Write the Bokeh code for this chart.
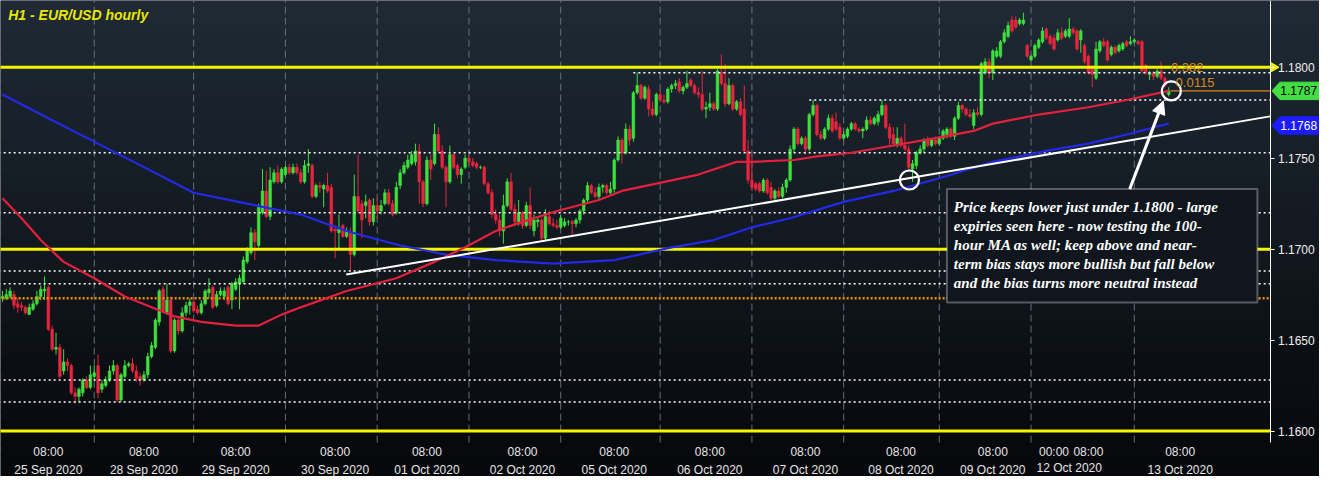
import numpy as np
from bokeh.plotting import figure
from bokeh.models import (Range1d, FixedTicker, NumeralTickFormatter, Label, LinearAxis,
                          Arrow, NormalHead, BoxAnnotation, ColumnDataSource)
from bokeh.embed import file_html
from bokeh.resources import INLINE

# ---------------- data (EUR/USD hourly candles) ----------------
open_ = [1.1673, 1.1673, 1.1674, 1.1675, 1.1670, 1.1669, 1.1668, 1.1664, 1.1667, 1.1670,
         1.1674, 1.1677, 1.1679, 1.1656, 1.1645, 1.1646, 1.1633, 1.1638, 1.1636, 1.1621,
         1.1619, 1.1621, 1.1628, 1.1624, 1.1630, 1.1636, 1.1623, 1.1625, 1.1628, 1.1633,
         1.1636, 1.1617, 1.1630, 1.1636, 1.1637, 1.1633, 1.1630, 1.1628, 1.1631, 1.1641,
         1.1646, 1.1660, 1.1678, 1.1665, 1.1672, 1.1644, 1.1661, 1.1655, 1.1665, 1.1669,
         1.1671, 1.1667, 1.1665, 1.1670, 1.1676, 1.1679, 1.1669, 1.1675, 1.1674, 1.1679,
         1.1672, 1.1678, 1.1681, 1.1682, 1.1693, 1.1698, 1.1709, 1.1702, 1.1720, 1.1732,
         1.1718, 1.1737, 1.1742, 1.1737, 1.1741, 1.1745, 1.1742, 1.1745, 1.1742, 1.1737,
         1.1746, 1.1746, 1.1729, 1.1735, 1.1733, 1.1735, 1.1734, 1.1711, 1.1709, 1.1713,
         1.1707, 1.1709, 1.1697, 1.1729, 1.1725, 1.1724, 1.1727, 1.1715, 1.1724, 1.1721,
         1.1725, 1.1731, 1.1725, 1.1720, 1.1735, 1.1742, 1.1745, 1.1747, 1.1748, 1.1754,
         1.1737, 1.1725, 1.1749, 1.1747, 1.1763, 1.1754, 1.1745, 1.1737, 1.1752, 1.1746,
         1.1741, 1.1745, 1.1750, 1.1748, 1.1747, 1.1745, 1.1745, 1.1736, 1.1731, 1.1719,
         1.1716, 1.1710, 1.1724, 1.1737, 1.1722, 1.1715, 1.1720, 1.1713, 1.1724, 1.1710,
         1.1715, 1.1716, 1.1706, 1.1718, 1.1714, 1.1713, 1.1712, 1.1713, 1.1715, 1.1715,
         1.1714, 1.1716, 1.1721, 1.1727, 1.1735, 1.1731, 1.1729, 1.1734, 1.1735, 1.1731,
         1.1733, 1.1749, 1.1760, 1.1753, 1.1766, 1.1761, 1.1786, 1.1790, 1.1783, 1.1788,
         1.1777, 1.1774, 1.1785, 1.1782, 1.1781, 1.1788, 1.1790, 1.1792, 1.1787, 1.1789,
         1.1793, 1.1790, 1.1786, 1.1785, 1.1777, 1.1778, 1.1780, 1.1777, 1.1797, 1.1791,
         1.1780, 1.1790, 1.1777, 1.1781, 1.1777, 1.1754, 1.1738, 1.1736, 1.1736, 1.1732,
         1.1738, 1.1734, 1.1728, 1.1732, 1.1729, 1.1734, 1.1738, 1.1755, 1.1766, 1.1758,
         1.1761, 1.1755, 1.1774, 1.1779, 1.1763, 1.1761, 1.1766, 1.1772, 1.1770, 1.1767,
         1.1761, 1.1762, 1.1766, 1.1769, 1.1766, 1.1765, 1.1766, 1.1771, 1.1769, 1.1770,
         1.1774, 1.1779, 1.1767, 1.1763, 1.1758, 1.1761, 1.1757, 1.1755, 1.1744, 1.1746,
         1.1753, 1.1755, 1.1760, 1.1757, 1.1760, 1.1758, 1.1761, 1.1763, 1.1766, 1.1762,
         1.1772, 1.1779, 1.1777, 1.1774, 1.1768, 1.1775, 1.1774, 1.1797, 1.1803, 1.1797,
         1.1806, 1.1806, 1.1814, 1.1817, 1.1826, 1.1826, 1.1824, 1.1824, 1.1812, 1.1804,
         1.1806, 1.1811, 1.1814, 1.1821, 1.1817, 1.1816, 1.1815, 1.1819, 1.1817, 1.1817,
         1.1821, 1.1820, 1.1815, 1.1812, 1.1806, 1.1799, 1.1794, 1.1809, 1.1814, 1.1814,
         1.1807, 1.1811, 1.1809, 1.1810, 1.1814, 1.1813, 1.1814, 1.1814, 1.1814, 1.1801,
         1.1796, 1.1797, 1.1795, 1.1798, 1.1794, 1.1785]

high = [1.1677, 1.1678, 1.1679, 1.1677, 1.1673, 1.1671, 1.1669, 1.1670, 1.1672, 1.1677,
        1.1680, 1.1685, 1.1680, 1.1658, 1.1654, 1.1648, 1.1645, 1.1640, 1.1637, 1.1624,
        1.1624, 1.1629, 1.1630, 1.1636, 1.1636, 1.1642, 1.1628, 1.1630, 1.1636, 1.1639,
        1.1637, 1.1632, 1.1639, 1.1638, 1.1640, 1.1636, 1.1632, 1.1633, 1.1643, 1.1649,
        1.1662, 1.1678, 1.1680, 1.1681, 1.1674, 1.1662, 1.1663, 1.1668, 1.1671, 1.1673,
        1.1672, 1.1669, 1.1672, 1.1678, 1.1684, 1.1680, 1.1677, 1.1679, 1.1679, 1.1680,
        1.1682, 1.1684, 1.1686, 1.1696, 1.1701, 1.1712, 1.1711, 1.1725, 1.1744, 1.1743,
        1.1745, 1.1744, 1.1746, 1.1745, 1.1746, 1.1747, 1.1747, 1.1747, 1.1744, 1.1749,
        1.1755, 1.1747, 1.1736, 1.1737, 1.1736, 1.1742, 1.1736, 1.1713, 1.1719, 1.1714,
        1.1712, 1.1712, 1.1741, 1.1752, 1.1727, 1.1730, 1.1728, 1.1728, 1.1728, 1.1727,
        1.1733, 1.1733, 1.1727, 1.1737, 1.1744, 1.1748, 1.1752, 1.1754, 1.1758, 1.1758,
        1.1738, 1.1751, 1.1752, 1.1769, 1.1767, 1.1757, 1.1746, 1.1757, 1.1753, 1.1747,
        1.1745, 1.1752, 1.1752, 1.1750, 1.1748, 1.1746, 1.1746, 1.1737, 1.1733, 1.1722,
        1.1719, 1.1730, 1.1739, 1.1742, 1.1725, 1.1727, 1.1721, 1.1726, 1.1734, 1.1719,
        1.1717, 1.1717, 1.1722, 1.1721, 1.1717, 1.1716, 1.1719, 1.1717, 1.1716, 1.1716,
        1.1717, 1.1722, 1.1728, 1.1737, 1.1736, 1.1734, 1.1736, 1.1736, 1.1736, 1.1737,
        1.1750, 1.1762, 1.1761, 1.1769, 1.1768, 1.1787, 1.1797, 1.1791, 1.1790, 1.1790,
        1.1781, 1.1786, 1.1788, 1.1785, 1.1789, 1.1791, 1.1793, 1.1794, 1.1790, 1.1798,
        1.1794, 1.1791, 1.1789, 1.1798, 1.1781, 1.1786, 1.1781, 1.1799, 1.1807, 1.1802,
        1.1794, 1.1791, 1.1782, 1.1783, 1.1790, 1.1760, 1.1752, 1.1737, 1.1737, 1.1739,
        1.1739, 1.1737, 1.1733, 1.1734, 1.1736, 1.1739, 1.1757, 1.1767, 1.1767, 1.1762,
        1.1762, 1.1775, 1.1782, 1.1780, 1.1765, 1.1767, 1.1774, 1.1774, 1.1775, 1.1769,
        1.1765, 1.1767, 1.1770, 1.1770, 1.1767, 1.1767, 1.1773, 1.1773, 1.1773, 1.1776,
        1.1782, 1.1780, 1.1769, 1.1767, 1.1767, 1.1762, 1.1769, 1.1757, 1.1749, 1.1754,
        1.1757, 1.1761, 1.1762, 1.1761, 1.1762, 1.1762, 1.1766, 1.1767, 1.1767, 1.1773,
        1.1781, 1.1780, 1.1778, 1.1777, 1.1777, 1.1778, 1.1803, 1.1805, 1.1805, 1.1810,
        1.1811, 1.1815, 1.1821, 1.1825, 1.1828, 1.1828, 1.1827, 1.1830, 1.1813, 1.1807,
        1.1813, 1.1816, 1.1822, 1.1822, 1.1818, 1.1818, 1.1821, 1.1822, 1.1821, 1.1827,
        1.1822, 1.1821, 1.1821, 1.1813, 1.1807, 1.1801, 1.1814, 1.1815, 1.1816, 1.1815,
        1.1812, 1.1812, 1.1813, 1.1814, 1.1815, 1.1817, 1.1816, 1.1815, 1.1815, 1.1802,
        1.1798, 1.1798, 1.1799, 1.1803, 1.1795, 1.1789]

low = [1.1671, 1.1672, 1.1673, 1.1667, 1.1665, 1.1666, 1.1664, 1.1664, 1.1666, 1.1669,
       1.1672, 1.1672, 1.1655, 1.1644, 1.1642, 1.1629, 1.1631, 1.1633, 1.1620, 1.1615,
       1.1616, 1.1619, 1.1623, 1.1623, 1.1628, 1.1618, 1.1621, 1.1624, 1.1627, 1.1631,
       1.1616, 1.1616, 1.1629, 1.1635, 1.1632, 1.1627, 1.1625, 1.1627, 1.1629, 1.1640,
       1.1645, 1.1658, 1.1665, 1.1664, 1.1643, 1.1643, 1.1653, 1.1654, 1.1663, 1.1664,
       1.1665, 1.1664, 1.1664, 1.1669, 1.1673, 1.1667, 1.1668, 1.1674, 1.1672, 1.1669,
       1.1667, 1.1677, 1.1667, 1.1681, 1.1692, 1.1697, 1.1694, 1.1701, 1.1719, 1.1717,
       1.1716, 1.1736, 1.1736, 1.1736, 1.1740, 1.1741, 1.1741, 1.1741, 1.1736, 1.1736,
       1.1742, 1.1728, 1.1728, 1.1731, 1.1723, 1.1731, 1.1709, 1.1695, 1.1700, 1.1706,
       1.1706, 1.1688, 1.1696, 1.1720, 1.1706, 1.1717, 1.1713, 1.1713, 1.1717, 1.1719,
       1.1724, 1.1724, 1.1718, 1.1719, 1.1733, 1.1741, 1.1744, 1.1746, 1.1746, 1.1725,
       1.1723, 1.1724, 1.1738, 1.1746, 1.1753, 1.1744, 1.1723, 1.1736, 1.1744, 1.1739,
       1.1736, 1.1744, 1.1746, 1.1745, 1.1744, 1.1744, 1.1735, 1.1730, 1.1717, 1.1714,
       1.1707, 1.1703, 1.1723, 1.1721, 1.1713, 1.1713, 1.1711, 1.1712, 1.1711, 1.1707,
       1.1712, 1.1705, 1.1705, 1.1713, 1.1712, 1.1711, 1.1711, 1.1712, 1.1713, 1.1707,
       1.1712, 1.1714, 1.1719, 1.1725, 1.1730, 1.1728, 1.1727, 1.1731, 1.1730, 1.1730,
       1.1731, 1.1748, 1.1747, 1.1752, 1.1757, 1.1759, 1.1785, 1.1782, 1.1782, 1.1773,
       1.1773, 1.1773, 1.1781, 1.1780, 1.1780, 1.1786, 1.1788, 1.1786, 1.1785, 1.1788,
       1.1789, 1.1785, 1.1783, 1.1776, 1.1772, 1.1776, 1.1776, 1.1776, 1.1790, 1.1778,
       1.1779, 1.1776, 1.1776, 1.1773, 1.1753, 1.1736, 1.1732, 1.1732, 1.1731, 1.1731,
       1.1730, 1.1727, 1.1727, 1.1728, 1.1728, 1.1731, 1.1737, 1.1753, 1.1757, 1.1757,
       1.1752, 1.1754, 1.1773, 1.1762, 1.1760, 1.1760, 1.1765, 1.1764, 1.1765, 1.1760,
       1.1760, 1.1761, 1.1765, 1.1765, 1.1764, 1.1761, 1.1765, 1.1768, 1.1768, 1.1768,
       1.1773, 1.1766, 1.1757, 1.1757, 1.1756, 1.1756, 1.1754, 1.1743, 1.1737, 1.1744,
       1.1752, 1.1753, 1.1756, 1.1756, 1.1757, 1.1757, 1.1760, 1.1761, 1.1761, 1.1760,
       1.1771, 1.1775, 1.1773, 1.1772, 1.1766, 1.1773, 1.1773, 1.1796, 1.1794, 1.1793,
       1.1805, 1.1805, 1.1813, 1.1816, 1.1819, 1.1821, 1.1823, 1.1823, 1.1805, 1.1803,
       1.1805, 1.1810, 1.1813, 1.1815, 1.1812, 1.1809, 1.1814, 1.1815, 1.1816, 1.1816,
       1.1818, 1.1809, 1.1808, 1.1802, 1.1796, 1.1789, 1.1793, 1.1808, 1.1811, 1.1803,
       1.1806, 1.1807, 1.1808, 1.1809, 1.1811, 1.1812, 1.1813, 1.1812, 1.1797, 1.1796,
       1.1793, 1.1793, 1.1794, 1.1793, 1.1789, 1.1784]

close = [1.1674, 1.1675, 1.1677, 1.1669, 1.1668, 1.1668, 1.1665, 1.1668, 1.1670, 1.1674,
         1.1678, 1.1678, 1.1656, 1.1645, 1.1646, 1.1630, 1.1638, 1.1636, 1.1621, 1.1619,
         1.1623, 1.1628, 1.1624, 1.1631, 1.1632, 1.1621, 1.1626, 1.1628, 1.1633, 1.1636,
         1.1617, 1.1631, 1.1636, 1.1637, 1.1633, 1.1629, 1.1628, 1.1631, 1.1641, 1.1647,
         1.1661, 1.1677, 1.1666, 1.1672, 1.1644, 1.1661, 1.1655, 1.1665, 1.1669, 1.1671,
         1.1666, 1.1665, 1.1670, 1.1677, 1.1678, 1.1668, 1.1675, 1.1677, 1.1677, 1.1670,
         1.1681, 1.1682, 1.1684, 1.1694, 1.1699, 1.1709, 1.1704, 1.1723, 1.1732, 1.1718,
         1.1738, 1.1742, 1.1737, 1.1744, 1.1745, 1.1742, 1.1745, 1.1742, 1.1737, 1.1746,
         1.1747, 1.1729, 1.1735, 1.1734, 1.1735, 1.1732, 1.1710, 1.1710, 1.1711, 1.1707,
         1.1710, 1.1697, 1.1729, 1.1721, 1.1716, 1.1726, 1.1715, 1.1724, 1.1721, 1.1724,
         1.1731, 1.1725, 1.1719, 1.1734, 1.1742, 1.1746, 1.1749, 1.1752, 1.1754, 1.1737,
         1.1725, 1.1749, 1.1744, 1.1763, 1.1754, 1.1745, 1.1737, 1.1752, 1.1745, 1.1741,
         1.1744, 1.1750, 1.1748, 1.1746, 1.1745, 1.1745, 1.1736, 1.1731, 1.1719, 1.1716,
         1.1710, 1.1724, 1.1737, 1.1722, 1.1715, 1.1720, 1.1713, 1.1724, 1.1713, 1.1716,
         1.1716, 1.1706, 1.1718, 1.1714, 1.1713, 1.1712, 1.1717, 1.1715, 1.1715, 1.1714,
         1.1716, 1.1721, 1.1727, 1.1735, 1.1731, 1.1729, 1.1734, 1.1735, 1.1731, 1.1733,
         1.1749, 1.1760, 1.1753, 1.1766, 1.1760, 1.1786, 1.1790, 1.1783, 1.1789, 1.1777,
         1.1774, 1.1785, 1.1782, 1.1781, 1.1788, 1.1790, 1.1791, 1.1787, 1.1789, 1.1791,
         1.1790, 1.1786, 1.1785, 1.1777, 1.1778, 1.1780, 1.1777, 1.1798, 1.1791, 1.1780,
         1.1790, 1.1777, 1.1781, 1.1774, 1.1754, 1.1738, 1.1734, 1.1733, 1.1732, 1.1738,
         1.1731, 1.1728, 1.1732, 1.1729, 1.1734, 1.1738, 1.1755, 1.1766, 1.1758, 1.1761,
         1.1755, 1.1774, 1.1779, 1.1763, 1.1761, 1.1766, 1.1772, 1.1765, 1.1766, 1.1761,
         1.1763, 1.1766, 1.1769, 1.1766, 1.1765, 1.1766, 1.1771, 1.1769, 1.1772, 1.1774,
         1.1779, 1.1767, 1.1761, 1.1758, 1.1761, 1.1757, 1.1755, 1.1745, 1.1747, 1.1753,
         1.1755, 1.1760, 1.1757, 1.1760, 1.1758, 1.1761, 1.1765, 1.1766, 1.1762, 1.1772,
         1.1779, 1.1777, 1.1774, 1.1773, 1.1775, 1.1774, 1.1802, 1.1803, 1.1797, 1.1809,
         1.1809, 1.1814, 1.1819, 1.1823, 1.1820, 1.1822, 1.1826, 1.1826, 1.1806, 1.1806,
         1.1812, 1.1815, 1.1820, 1.1816, 1.1813, 1.1810, 1.1819, 1.1816, 1.1820, 1.1821,
         1.1819, 1.1810, 1.1820, 1.1803, 1.1797, 1.1796, 1.1810, 1.1814, 1.1812, 1.1804,
         1.1811, 1.1808, 1.1812, 1.1813, 1.1812, 1.1814, 1.1815, 1.1813, 1.1798, 1.1797,
         1.1797, 1.1795, 1.1798, 1.1794, 1.1790, 1.1787]

# 100-hour MA (red) and 200-hour MA (blue) at candle positions
ma100_x = [0, 5, 10, 16, 24, 32, 39, 45, 52, 61, 67, 73, 78, 90, 103, 113, 121, 129, 136,
           145, 156, 162, 171, 182, 192, 196, 207, 213, 222, 233, 244, 254, 259, 271, 284,
           294, 305]
ma100 = [1.1728, 1.1717, 1.1705, 1.1693, 1.1684, 1.1674, 1.1668, 1.1663, 1.1660, 1.1658,
         1.1658, 1.1664, 1.1668, 1.1677, 1.1684, 1.1693, 1.1701, 1.1710, 1.1715, 1.1721,
         1.1727, 1.1732, 1.1736, 1.1741, 1.1748, 1.1748, 1.1749, 1.1751, 1.1753, 1.1757,
         1.1761, 1.1765, 1.1769, 1.1774, 1.1778, 1.1782, 1.1787]
ma200_x = [0, 12, 25, 38, 50, 64, 78, 90, 104, 116, 129, 144, 160, 175, 186, 196, 206,
           220, 233, 245, 259, 273, 284, 294, 305]
ma200 = [1.1785, 1.1772, 1.1758, 1.1744, 1.1731, 1.1725, 1.1719, 1.1710, 1.1702, 1.1697,
         1.1694, 1.1692, 1.1694, 1.1701, 1.1705, 1.1712, 1.1717, 1.1726, 1.1732, 1.1739,
         1.1748, 1.1754, 1.1758, 1.1763, 1.1769]

# x-axis tick labels (candle index -> label)
tick_idx = [12, 37, 61, 87, 111, 136, 160, 185, 210, 235, 259, 275, 284, 308]
tick_time = ["08:00"] * 11 + ["00:00", "08:00", "08:00"]
tick_date = ["25 Sep 2020", "28 Sep 2020", "29 Sep 2020", "30 Sep 2020", "01 Oct 2020",
             "02 Oct 2020", "05 Oct 2020", "06 Oct 2020", "07 Oct 2020", "08 Oct 2020",
             "09 Oct 2020", " ", " ", "13 Oct 2020"]
extra_date = "12 Oct 2020"
extra_date_x = 279
vline_x = [24, 50, 74, 98, 122, 146, 172, 196, 220, 245, 269, 296]
price_ticks = [1.1600, 1.1650, 1.1700, 1.1750, 1.1800]

# drawn levels
yellow_levels = [1.1800, 1.1700, 1.1600]
white_levels = [1.1797, 1.1782, 1.1753, 1.1720, 1.1688, 1.1681, 1.1628, 1.1616]
white_levels_start = [165, 211, -1, -1, -1, -1, -1, -1]
orange_level = 1.1673
fib_level = 1.1787
trend_x = [89.9, 331.5]
trend_y = [1.1686, 1.1773]
circle_x = [237.2, 305.7]
circle_y = [1.1738, 1.1787]
last_price = 1.1787
ma200_last = 1.1768

note_lines = ["Price keeps lower just under 1.1800 - large",
              "expiries seen here - now testing the 100-",
              "hour MA as well; keep above and near-",
              "term bias stays more bullish but fall below",
              "and the bias turns more neutral instead"]

# ---------------- figure ----------------
# the frame covers the whole canvas; axes are pinned with fixed_location
X_LEFT, X_RIGHT, X_AXIS = -0.517, 344.44, 331.5
Y_TOP, Y_BOTTOM, Y_AXIS = 1.18367, 1.15750, 1.15936
GREEN = "#3ee03e"
RED = "#e8253f"

p = figure(width=1319, height=476, x_range=Range1d(X_LEFT, X_RIGHT),
           y_range=Range1d(Y_BOTTOM, Y_TOP), output_backend="svg", toolbar_location=None,
           x_axis_location=None, y_axis_location=None,
           min_border_left=0, min_border_top=0, min_border_right=0, min_border_bottom=0,
           background_fill_color="#0b0f13", border_fill_color="#0b0f13")
p.outline_line_color = None
p.xgrid.visible = False
p.ygrid.visible = False

# background gradient bands
top_c = np.array([31, 42, 53])
bot_c = np.array([6, 8, 11])
nb = 44
for k in range(nb):
    t = k / (nb - 1)
    col = (top_c + (bot_c - top_c) * t).astype(int)
    hexc = "#%02x%02x%02x" % tuple(col)
    top = Y_TOP - (Y_TOP - Y_BOTTOM) * k / nb
    bottom = Y_TOP - (Y_TOP - Y_BOTTOM) * (k + 1) / nb - 0.00005
    p.add_layout(BoxAnnotation(top=top, bottom=bottom, fill_color=hexc, fill_alpha=1,
                               line_alpha=0, level="underlay"))

# vertical dashed separators
p.segment(x0=vline_x, y0=[Y_AXIS] * len(vline_x), x1=vline_x, y1=[Y_TOP] * len(vline_x),
          line_color="#7d858f", line_width=1, line_dash="7 4", line_alpha=0.8)

# candles
o = np.array(open_)
c = np.array(close)
src = ColumnDataSource(dict(
    x=np.arange(len(close)), h=high, l=low,
    top=np.maximum(o, c), bottom=np.minimum(o, c),
    color=np.where(c >= o, GREEN, RED)))
p.segment(x0="x", y0="h", x1="x", y1="l", color="color", line_width=1, source=src)
p.vbar(x="x", width=0.72, top="top", bottom="bottom", fill_color="color",
       line_color="color", line_width=0.5, source=src)

# level lines
for lv, x0 in zip(white_levels, white_levels_start):
    p.segment(x0=[x0], y0=[lv], x1=[X_AXIS], y1=[lv], line_color="white",
              line_width=1.5, line_dash="2 3")
p.segment(x0=[-1], y0=[orange_level], x1=[X_AXIS], y1=[orange_level],
          line_color="#e8900c", line_width=2.5, line_dash="2 2")
for lv in yellow_levels:
    p.segment(x0=[-1], y0=[lv], x1=[X_AXIS], y1=[lv], line_color="#f5f500", line_width=3)
p.scatter([X_AXIS + 1.0], [1.1800], marker="triangle", angle=-np.pi / 2, size=9,
          fill_color="#f5f500", line_color="#f5f500")
p.segment(x0=[305.5], y0=[fib_level], x1=[X_AXIS], y1=[fib_level],
          line_color="#d88a1c", line_width=1.2)

# moving averages and trend line
p.line(ma200_x, ma200, line_color="#2229e8", line_width=2.2)
p.line(ma100_x, ma100, line_color="#e4203c", line_width=2.2)
p.line(trend_x, trend_y, line_color="white", line_width=2)
p.scatter(circle_x, circle_y, marker="circle", size=19, fill_alpha=0,
          line_color="white", line_width=2.2)

# fib labels
p.add_layout(Label(x=305.6, y=1.1800, text="0.382", text_color="#d88a1c",
                   text_font="Liberation Sans", text_font_size="13px", text_baseline="middle"))
p.add_layout(Label(x=306.8, y=1.17915, text="0.0115", text_color="#d88a1c",
                   text_font="Liberation Sans", text_font_size="13px", text_baseline="middle"))

# title
p.add_layout(Label(x=1.5, y=1.18287, text="H1 - EUR/USD hourly", text_color="#e8e800",
                   text_font="Liberation Sans", text_font_style="bold italic",
                   text_font_size="14px", text_baseline="middle"))

# note box
p.add_layout(BoxAnnotation(left=247.0, right=328.2, top=1.17330, bottom=1.16707,
                           fill_color="#0f161d", fill_alpha=1, line_color="white",
                           line_width=2))
note_y = [1.17234, 1.17129, 1.17023, 1.16918, 1.16812]
for txt, ny in zip(note_lines, note_y):
    p.add_layout(Label(x=248.8, y=ny, text=txt, text_color="white",
                       text_font="Liberation Serif", text_font_style="bold italic",
                       text_font_size="15px", text_baseline="middle"))

p.add_layout(Arrow(end=NormalHead(size=13, fill_color="white", line_color="white"),
                   x_start=294.8, y_start=1.1733, x_end=303.6, y_end=1.17815,
                   line_color="white", line_width=3))

# axes pinned inside the full-canvas frame
xa = LinearAxis(fixed_location=Y_AXIS, ticker=FixedTicker(ticks=tick_idx))
xa.major_label_overrides = {t: f"{a}\n{b}" for t, a, b in zip(tick_idx, tick_time, tick_date)}
xa.major_label_text_color = "#e6e6e6"
xa.major_label_text_font = "Liberation Sans"
xa.major_label_text_font_size = "12px"
xa.major_label_text_line_height = 1.3
xa.axis_line_color = None
xa.major_tick_line_color = None
xa.minor_tick_line_color = None
xa.major_tick_out = 0
xa.major_label_standoff = 2
p.add_layout(xa, "below")

ya = LinearAxis(fixed_location=X_AXIS, ticker=FixedTicker(ticks=price_ticks),
                bounds=(Y_AXIS, Y_TOP))
ya.formatter = NumeralTickFormatter(format="0.0000")
ya.major_label_text_color = "#eeeeee"
ya.major_label_text_font = "Liberation Sans"
ya.major_label_text_font_size = "12px"
ya.axis_line_color = "white"
ya.axis_line_width = 1
ya.major_tick_line_color = "white"
ya.major_tick_out = 4
ya.major_tick_in = 0
ya.minor_tick_line_color = None
ya.major_label_standoff = 4
p.add_layout(ya, "right")

p.add_layout(Label(x=extra_date_x, y=1.15797, text=extra_date, text_color="#e6e6e6",
                   text_font="Liberation Sans", text_font_size="12px",
                   text_align="center", text_baseline="middle"))

# price tags on the right axis
tag_x0, tag_tip, tag_x1, tag_half = 332.0, 2.1, X_RIGHT + 1, 0.00048
for val, fill, txtc in [(last_price, "#44dd44", "black"), (ma200_last, "#1c1cff", "white")]:
    p.patch([tag_x0, tag_x0 + tag_tip, tag_x1, tag_x1, tag_x0 + tag_tip],
            [val, val + tag_half, val + tag_half, val - tag_half, val - tag_half],
            fill_color=fill, line_color=fill)
    p.add_layout(Label(x=tag_x0 + 2.2, y=val, text=f"{val:.4f}", text_color=txtc,
                       text_font="Liberation Sans", text_font_size="12px",
                       text_baseline="middle"))

open("out.html", "w").write(file_html(p, INLINE))
